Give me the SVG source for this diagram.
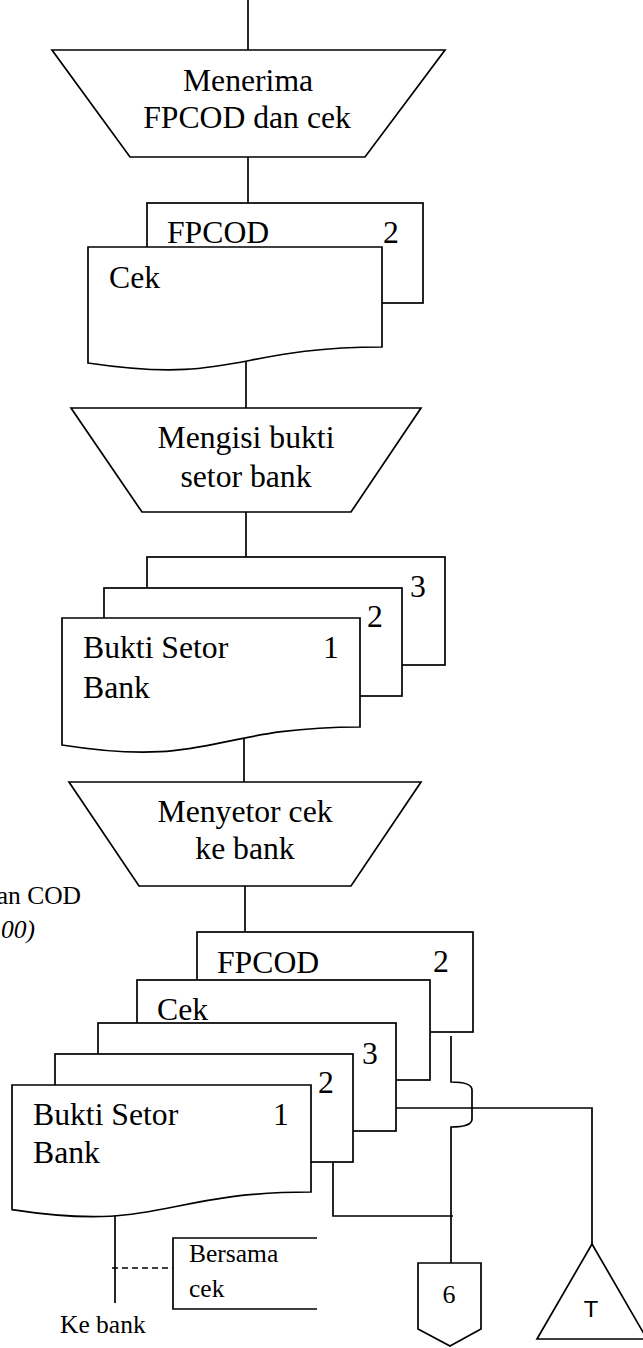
<svg xmlns="http://www.w3.org/2000/svg" width="643" height="1348" viewBox="0 0 643 1348">
  <style>
    .shape { fill: #ffffff; stroke: #000000; stroke-width: 1.7; stroke-linejoin: miter; }
    .line { fill: none; stroke: #000000; stroke-width: 1.7; }
    .dash { fill: none; stroke: #000000; stroke-width: 1.7; stroke-dasharray: 6 4; }
    text { fill: #000000; }
  </style>

  <g font-family="'Liberation Serif', 'DejaVu Serif', serif">

  <!-- cut-off side caption -->
  <g id="side-caption" font-size="25.5" text-anchor="end">
    <text x="81" y="904">an COD</text>
    <text x="35" y="938" font-style="italic">00)</text>
  </g>

  <!-- flow lines -->
  <g id="connectors">
    <path class="line" d="M248,0 V50"/>
    <path class="line" d="M248,157 V203"/>
    <path class="line" d="M246,360 V408"/>
    <path class="line" d="M246,512 V557"/>
    <path class="line" d="M244,735 V782"/>
    <path class="line" d="M245,886 V932"/>
    <!-- FPCOD copy 2 to file 6, hopping over the line to T -->
    <path class="line" d="M451,1036 V1082 Q472,1082 472,1090 V1119 Q472,1127 451,1127 V1263"/>
    <!-- copy 3 to permanent file T -->
    <path class="line" d="M396,1108 H592 V1244"/>
    <!-- copy 2 joins the line to file 6 -->
    <path class="line" d="M333,1162 V1216 H453"/>
    <!-- copy 1 to the bank -->
    <path class="line" d="M115,1215 V1303"/>
    <path class="dash" d="M112,1268 H173"/>
  </g>

  <!-- manual operation: receive FPCOD and cheque -->
  <g id="proc-menerima" font-size="31.7" text-anchor="middle">
    <path class="shape" d="M52,50 H445 L365,157 H130 Z"/>
    <text x="248" y="91">Menerima</text>
    <text x="247" y="128">FPCOD dan cek</text>
  </g>

  <!-- documents: FPCOD 2 and cheque -->
  <g id="doc-fpcod-cek" font-size="31.7">
    <rect class="shape" x="147" y="203" width="276" height="100"/>
    <text x="167" y="243">FPCOD</text>
    <text x="383" y="243">2</text>
    <path class="shape" d="M88,247 H382 V347 C235,347 235,385 88,363 Z"/>
    <text x="109" y="288">Cek</text>
  </g>

  <!-- manual operation: fill in deposit slip -->
  <g id="proc-mengisi" font-size="31.7" text-anchor="middle">
    <path class="shape" d="M71,408 H421 L351,512 H142 Z"/>
    <text x="246" y="448">Mengisi bukti</text>
    <text x="246" y="487">setor bank</text>
  </g>

  <!-- deposit slip, three copies -->
  <g id="doc-bukti-setor" font-size="31.7">
    <rect class="shape" x="147" y="557" width="298" height="108"/>
    <text x="410" y="597">3</text>
    <rect class="shape" x="104" y="588" width="298" height="108"/>
    <text x="367" y="627">2</text>
    <path class="shape" d="M62,618 H360 V727 C211,727 211,768.5 62,745 Z"/>
    <text x="83" y="658">Bukti Setor</text>
    <text x="323" y="658">1</text>
    <text x="83" y="698">Bank</text>
  </g>

  <!-- manual operation: deposit cheque at the bank -->
  <g id="proc-menyetor" font-size="31.7" text-anchor="middle">
    <path class="shape" d="M69,782 H421 L351,886 H139 Z"/>
    <text x="245" y="822">Menyetor cek</text>
    <text x="245" y="859">ke bank</text>
  </g>

  <!-- FPCOD, cheque and deposit slip copies -->
  <g id="doc-stack-akhir" font-size="31.7">
    <rect class="shape" x="197" y="932" width="276" height="100"/>
    <text x="217" y="973">FPCOD</text>
    <text x="433" y="972">2</text>
    <rect class="shape" x="137" y="980" width="293" height="100"/>
    <text x="157" y="1020">Cek</text>
    <rect class="shape" x="98" y="1023" width="298" height="108"/>
    <text x="362" y="1064">3</text>
    <rect class="shape" x="55" y="1054" width="298" height="108"/>
    <text x="318" y="1093">2</text>
    <path class="shape" d="M12,1085 H311 V1192 C161.5,1192 161.5,1232.7 12,1209.6 Z"/>
    <text x="33" y="1125">Bukti Setor</text>
    <text x="273" y="1125">1</text>
    <text x="33" y="1163">Bank</text>
  </g>

  <!-- annotation -->
  <g id="note-bersama-cek" font-size="25.5">
    <path class="line" d="M317,1238 H173 V1309 H317"/>
    <text x="189" y="1262">Bersama</text>
    <text x="189" y="1297">cek</text>
  </g>

  <g id="label-ke-bank" font-size="25.5">
    <text x="60" y="1333">Ke bank</text>
  </g>

  <!-- off-page connector 6 -->
  <g id="offpage-6" font-size="26" text-anchor="middle">
    <path class="shape" d="M418,1263 H481 V1329 L450,1346 L418,1329 Z"/>
    <text x="449" y="1303">6</text>
  </g>

  <!-- permanent file T -->
  <g id="file-t">
    <path class="shape" d="M592,1244 L647,1339 H537 Z"/>
    <text x="591" y="1317" text-anchor="middle" font-family="'DejaVu Sans', sans-serif" font-size="22">T</text>
  </g>

  </g>
</svg>
